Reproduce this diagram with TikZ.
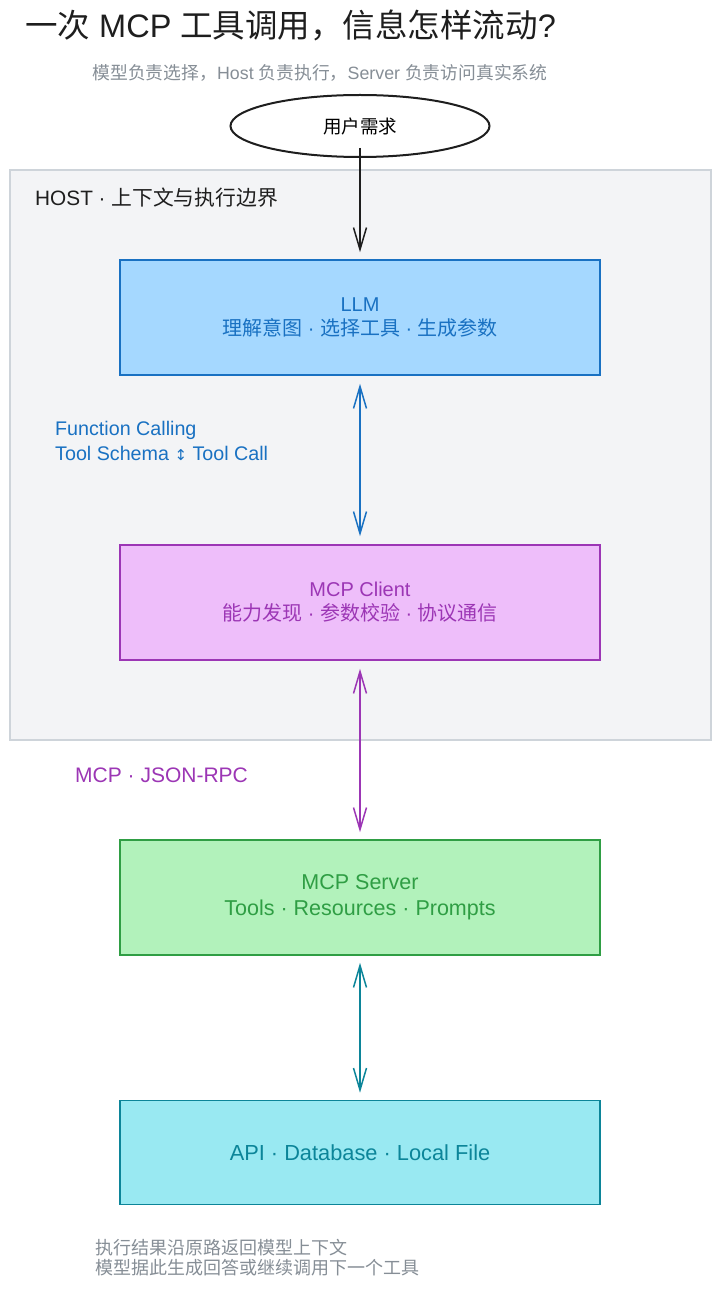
\documentclass[tikz,border=0pt]{standalone}
\usepackage{fontspec}
\setmainfont{Liberation Sans}
\newfontfamily\cjk{Noto Sans CJK SC}
\newfontfamily\symf{DejaVu Sans}
\newcommand\zh[1]{{\cjk #1}}
\usetikzlibrary{arrows.meta,shapes.geometric}
\definecolor{hostfill}{HTML}{F3F4F6}
\definecolor{hostline}{HTML}{CED4DA}
\definecolor{llmfill}{HTML}{A5D8FF}
\definecolor{llmline}{HTML}{1971C2}
\definecolor{clifill}{HTML}{EEBEFA}
\definecolor{cliline}{HTML}{9C36B5}
\definecolor{srvfill}{HTML}{B2F2BB}
\definecolor{srvline}{HTML}{2F9E44}
\definecolor{apifill}{HTML}{99E9F2}
\definecolor{apiline}{HTML}{0C8599}
\definecolor{txtgray}{HTML}{868E96}
\definecolor{titlec}{HTML}{1E1E1E}
\tikzset{
  box/.style={draw, line width=1.6pt, minimum width=480pt, minimum height=115pt, align=center, font=\fontsize{20}{25}\selectfont, inner sep=0pt},
  conn/.style={line width=1.5pt, {Straight Barb[length=22pt,width=13pt,line width=1.5pt]}-{Straight Barb[length=22pt,width=13pt,line width=1.5pt]}},
  oneway/.style={line width=1.5pt, -{Straight Barb[length=22pt,width=13pt,line width=1.5pt]}},
}
\begin{document}
\begin{tikzpicture}[x=1pt,y=-1pt]
\useasboundingbox (0,0) rectangle (720,1289);
\fill[white] (0,0) rectangle (720,1289);
% title
\node[anchor=west, inner sep=0pt, text=titlec, font=\fontsize{32.5}{36}\selectfont] (title) at (25,25) {\zh{一次} MCP \zh{工具调用，信息怎样流动}?};
\node[anchor=center, inner sep=0pt, text=txtgray, font=\fontsize{17.8}{20}\selectfont] (sub) at (320,73) {\zh{模型负责选择，}Host \zh{负责执行，}Server \zh{负责访问真实系统}};
% host container
\draw[hostline, fill=hostfill, line width=1.5pt] (10,170) rectangle (711,740);
\node[anchor=west, inner sep=0pt, text=titlec, font=\fontsize{20.8}{24}\selectfont] (hostlbl) at (35,198) {HOST · \zh{上下文与执行边界}};
% user
\node[ellipse, draw=titlec, line width=2pt, fill=white, minimum width=259pt, minimum height=62pt, font=\fontsize{18.5}{20}\selectfont] (user) at (360,126) {\zh{用户需求}};
% boxes
\node[box, draw=llmline, fill=llmfill, text=llmline] (llm) at (360,317.5) {LLM\\[-1pt]\zh{理解意图} · \zh{选择工具} · \zh{生成参数}};
\node[box, draw=cliline, fill=clifill, text=cliline] (cli) at (360,602.5) {MCP Client\\[-1pt]\zh{能力发现} · \zh{参数校验} · \zh{协议通信}};
\node[box, draw=srvline, fill=srvfill, text=srvline, font=\fontsize{21.5}{26}\selectfont] (srv) at (360,897.5) {MCP Server\\Tools · Resources · Prompts};
\node[box, draw=apiline, fill=apifill, text=apiline, minimum height=104pt, font=\fontsize{21.8}{25}\selectfont] (api) at (360,1152.5) {API · Database · Local File};
% connectors
\coordinate (us) at ([yshift=10pt]user.south);
\draw[oneway, titlec] (us) -- ([yshift=7pt]llm.north);
\draw[conn, llmline] ([yshift=-8pt]llm.south) -- ([yshift=8pt]cli.north);
\draw[conn, cliline] ([yshift=-8pt]cli.south) -- ([yshift=7pt]srv.north);
\draw[conn, apiline] ([yshift=-7pt]srv.south) -- ([yshift=7pt]api.north);
% labels
\node[anchor=west, inner sep=0pt, text=llmline, font=\fontsize{19.7}{23}\selectfont] (fc1) at (55,430) {Function Calling};
\node[anchor=west, inner sep=0pt, text=llmline, font=\fontsize{19.7}{23}\selectfont] (fc2) at (55,453) {Tool Schema {\symf\fontsize{15}{15}\selectfont ↕} Tool Call};
\node[anchor=west, inner sep=0pt, text=cliline, font=\fontsize{21}{24}\selectfont] (rpc) at (75,775) {MCP · JSON-RPC};
\node[anchor=west, inner sep=0pt, text=txtgray, font=\fontsize{18}{20}\selectfont] (foot1) at (95,1248) {\zh{执行结果沿原路返回模型上下文}};
\node[anchor=west, inner sep=0pt, text=txtgray, font=\fontsize{18}{20}\selectfont] (foot2) at (95,1268) {\zh{模型据此生成回答或继续调用下一个工具}};
\end{tikzpicture}
\end{document}
